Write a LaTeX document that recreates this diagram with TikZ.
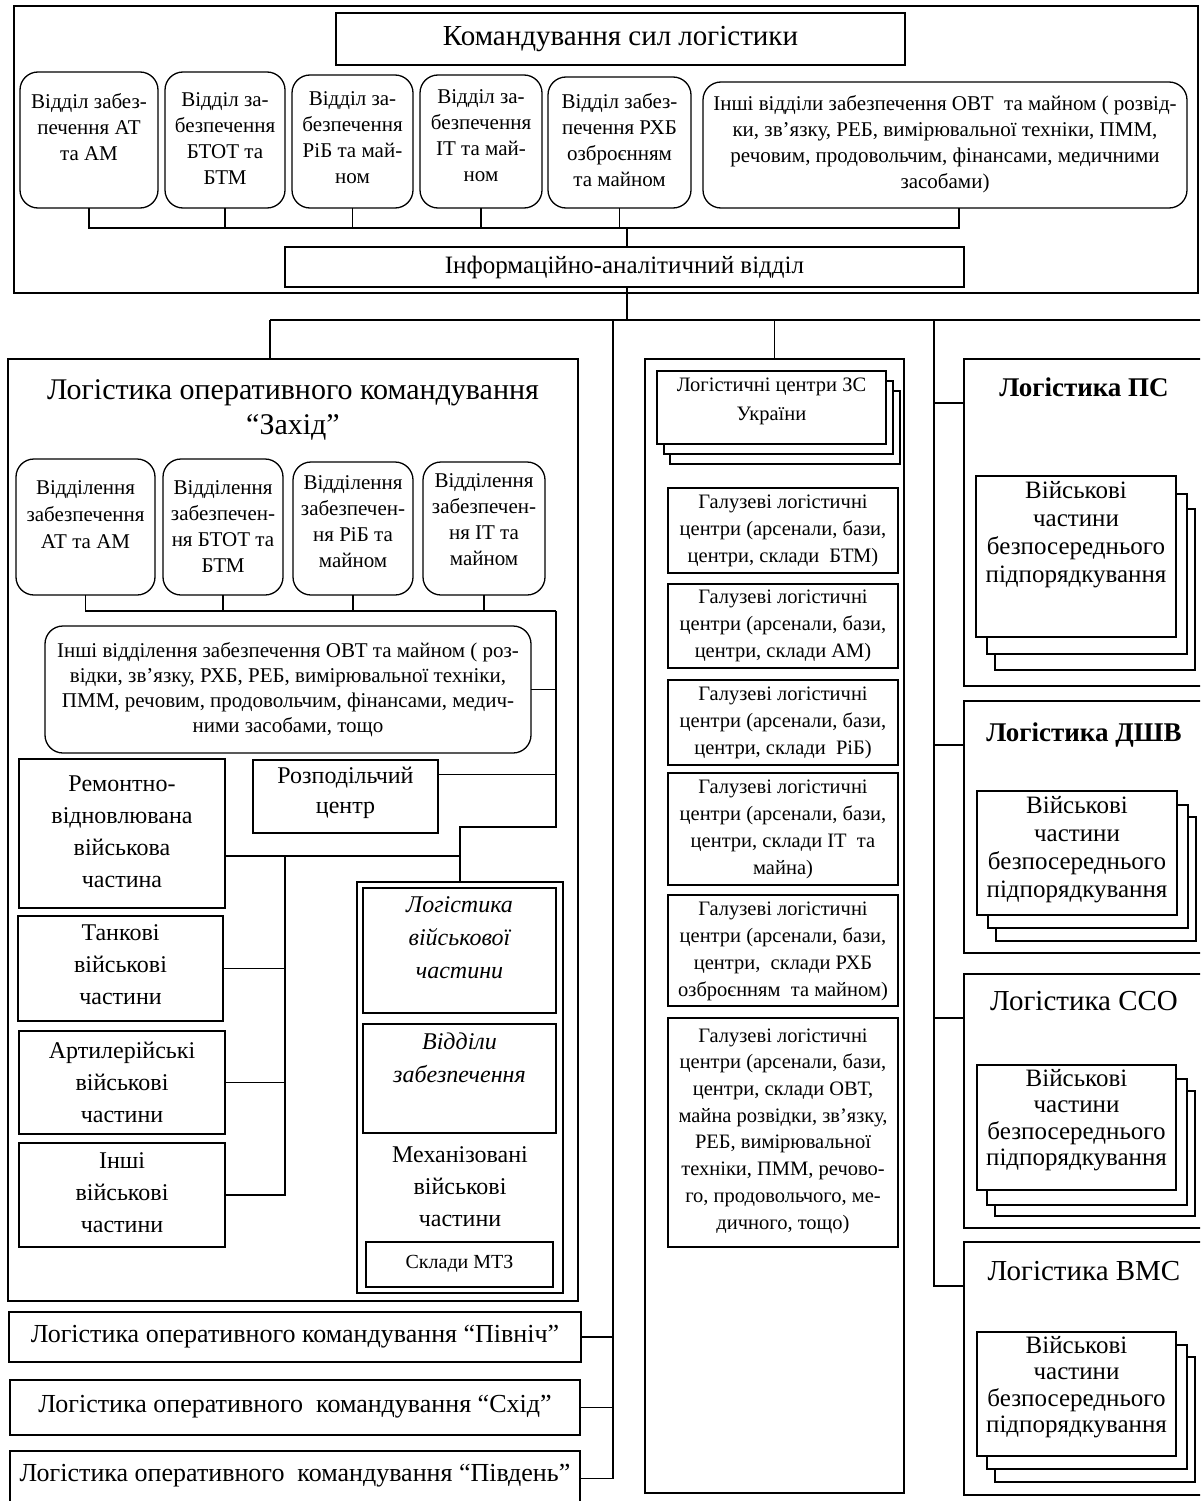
\documentclass[tikz,border=0pt]{standalone}
\usepackage{fontspec}
\setmainfont{Liberation Serif}
\usetikzlibrary{calc}
\newcommand\fsz[2]{\fontsize{#1}{#2}\selectfont}
% #1 style, #2 name, #3 x1, #4 y1, #5 x2, #6 y2, #7 text centre y, #8 font, #9 text
\newcommand\mybox[9]{%
  \node[#1, anchor=north west, minimum width={(#5)-(#3)}, minimum height={(#6)-(#4)}] (#2) at (#3,#4) {};
  \node[txt, font=#8] (#2t) at ({((#3)+(#5))/2}, #7) {#9};}
\newcommand\myshape[6]{%
  \node[#1, anchor=north west, minimum width={(#5)-(#3)}, minimum height={(#6)-(#4)}] (#2) at (#3,#4) {};}
\begin{document}
\begin{tikzpicture}[x=1pt,y=-1pt,
  box/.style={draw, line width=1.3pt, fill=white, inner sep=0pt, outer sep=0pt},
  rbox/.style={box, rounded corners=18pt},
  txt/.style={align=center, inner sep=0pt},
  ln/.style={line width=1.3pt}]
\useasboundingbox (0,0) rectangle (1200,1501);
\clip (0,0) rectangle (1200,1501);
\fill[white] (0,0) rectangle (1200,1501);

% ---------- top block ----------
\myshape{box}{top}{14}{6}{1198}{293}
\mybox{box}{title}{336}{13}{905}{65}{39}{\fsz{29}{34}}{Командування сил логістики}
\mybox{rbox}{s1}{20}{72}{158}{208}{127}{\fsz{21}{26}}{Відділ забез-\\печення АТ\\та АМ}
\mybox{rbox}{s2}{165}{72}{285}{208}{139}{\fsz{21}{26}}{Відділ за-\\безпечення\\БТОТ та\\БТМ}
\mybox{rbox}{s3}{292}{75}{413}{208}{138}{\fsz{21}{26}}{Відділ за-\\безпечення\\РіБ та май-\\ном}
\mybox{rbox}{s4}{420}{75}{542}{208}{136}{\fsz{21}{26}}{Відділ за-\\безпечення\\ІТ та май-\\ном}
\mybox{rbox}{s5}{548}{77}{691}{208}{140}{\fsz{21}{26}}{Відділ забез-\\печення РХБ\\озброєнням\\та майном}
\mybox{rbox}{s6}{703}{82}{1187}{208}{144}{\fsz{21}{26}}{Інші відділи забезпечення ОВТ\ \ та майном ( розвід-\\ки, зв'язку, РЕБ, вимірювальної техніки, ПММ,\\речовим, продовольчим, фінансами, медичними\\засобами)}
\mybox{box}{info}{285}{247}{964}{287}{267}{\fsz{25}{30}}{Інформаційно-аналітичний відділ}

% ---------- West command ----------
\myshape{box}{zah}{8}{359}{578}{1301}
\node[txt, font=\fsz{30}{35}] (zaht) at (293,410) {Логістика оперативного командування\\“Захід”};
\mybox{rbox}{r1}{16}{459}{155}{595}{515}{\fsz{21}{27}}{Відділення\\забезпечення\\АТ та АМ}
\mybox{rbox}{r2}{163}{459}{283}{595}{527}{\fsz{21}{26}}{Відділення\\забезпечен-\\ня БТОТ та\\БТМ}
\mybox{rbox}{r3}{293}{462}{413}{595}{522}{\fsz{21}{26}}{Відділення\\забезпечен-\\ня РіБ та\\майном}
\mybox{rbox}{r4}{423}{462}{545}{595}{520}{\fsz{21}{26}}{Відділення\\забезпечен-\\ня ІТ та\\майном}
\mybox{rbox}{i1}{45}{626}{531}{753}{690}{\fsz{21}{25}}{Інші відділення забезпечення ОВТ та майном ( роз-\\відки, зв'язку, РХБ, РЕБ, вимірювальної техніки,\\ПММ, речовим, продовольчим, фінансами, медич-\\ними засобами, тощо}
\mybox{box}{rem}{19}{759}{225}{908}{832}{\fsz{24}{32}}{Ремонтно-\\відновлювана\\військова\\частина}
\mybox{box}{rozp}{253}{760}{438}{833}{793}{\fsz{24}{30}}{Розподільчий\\центр}
\mybox{box}{tank}{18}{916}{223}{1021}{965}{\fsz{24}{32}}{Танкові\\військові\\частини}
\mybox{box}{art}{19}{1031}{225}{1134}{1082}{\fsz{24}{32}}{Артилерійські\\військові\\частини}
\mybox{box}{insh}{19}{1143}{225}{1247}{1193}{\fsz{24}{32}}{Інші\\військові\\частини}
\mybox{box}{mech}{357}{882}{563}{1293}{1187}{\fsz{24}{32}}{Механізовані\\військові\\частини}
\mybox{box}{lvc}{363}{888}{556}{1013}{938}{\fsz{24}{33}\itshape}{Логістика\\військової\\частини}
\mybox{box}{vz}{363}{1024}{556}{1133}{1058}{\fsz{24}{33}\itshape}{Відділи\\забезпечення}
\mybox{box}{mtz}{366}{1242}{553}{1287}{1264}{\fsz{20}{24}}{Склади МТЗ}

% ---------- other commands ----------
\mybox{box}{pivn}{9}{1312}{581}{1362}{1337}{\fsz{26}{30}}{Логістика оперативного командування “Північ”}
\mybox{box}{skhid}{10}{1380}{580}{1435}{1407}{\fsz{26}{30}}{Логістика оперативного\ \ командування “Схід”}
\mybox{box}{pivd}{10}{1451}{580}{1506}{1476}{\fsz{26}{30}}{Логістика оперативного\ \ командування “Південь”}

% ---------- logistic centres ----------
\myshape{box}{mid}{645}{359}{904}{1493}
\myshape{box}{zs3}{670}{391}{900}{464}
\myshape{box}{zs2}{664}{381}{893}{454}
\mybox{box}{zs}{657}{371}{886}{444}{401}{\fsz{20.5}{29}}{Логістичні центри ЗС\\України}
\mybox{box}{g1}{668}{488}{898}{573}{531}{\fsz{20.5}{27}}{Галузеві логістичні\\центри (арсенали, бази,\\центри, склади\ \ БТМ)}
\mybox{box}{g2}{668}{584}{898}{668}{626}{\fsz{20.5}{27}}{Галузеві логістичні\\центри (арсенали, бази,\\центри, склади АМ)}
\mybox{box}{g3}{668}{680}{898}{765}{723}{\fsz{20.5}{27}}{Галузеві логістичні\\центри (арсенали, бази,\\центри, склади\ \ РіБ)}
\mybox{box}{g4}{668}{773}{898}{885}{829}{\fsz{20.5}{27}}{Галузеві логістичні\\центри (арсенали, бази,\\центри, склади ІТ\ \ та\\майна)}
\mybox{box}{g5}{668}{895}{898}{1006}{951}{\fsz{20.5}{27}}{Галузеві логістичні\\центри (арсенали, бази,\\центри,\ \ склади РХБ\\озброєнням\ \ та майном)}
\mybox{box}{g6}{668}{1018}{898}{1247}{1131}{\fsz{20.5}{26.7}}{Галузеві логістичні\\центри (арсенали, бази,\\центри, склади ОВТ,\\майна розвідки, зв'язку,\\РЕБ, вимірювальної\\техніки, ПММ, речово-\\го, продовольчого, ме-\\дичного, тощо)}

% ---------- services ----------
\myshape{box}{ps}{964}{359}{1204}{686}
\node[txt, font=\fsz{27}{30}\bfseries] (pst) at (1084,387) {Логістика ПС};
\myshape{box}{ps3}{995}{509}{1195}{670}
\myshape{box}{ps2}{987}{494}{1187}{654}
\mybox{box}{ps1}{976}{476}{1176}{637}{535}{\fsz{25}{28}}{Військові\\частини\\безпосереднього\\підпорядкування}

\myshape{box}{dsh}{964}{701}{1204}{953}
\node[txt, font=\fsz{27}{30}\bfseries] (dsht) at (1084,735) {Логістика ДШВ};
\myshape{box}{dsh3}{996}{817}{1196}{941}
\myshape{box}{dsh2}{988}{805}{1188}{928}
\mybox{box}{dsh1}{977}{791}{1177}{915}{850}{\fsz{25}{28}}{Військові\\частини\\безпосереднього\\підпорядкування}

\myshape{box}{sso}{964}{974}{1204}{1228}
\node[txt, font=\fsz{29}{32}] (ssot) at (1084,1001) {Логістика ССО};
\myshape{box}{sso3}{995}{1091}{1195}{1216}
\myshape{box}{sso2}{987}{1079}{1187}{1205}
\mybox{box}{sso1}{977}{1065}{1176}{1190}{1120}{\fsz{25}{26.5}}{Військові\\частини\\безпосереднього\\підпорядкування}

\myshape{box}{vms}{964}{1242}{1204}{1495}
\node[txt, font=\fsz{29}{32}] (vmst) at (1084,1271) {Логістика ВМС};
\myshape{box}{vms3}{995}{1357}{1195}{1482}
\myshape{box}{vms2}{987}{1345}{1187}{1469}
\mybox{box}{vms1}{977}{1332}{1176}{1456}{1387}{\fsz{25}{26.5}}{Військові\\частини\\безпосереднього\\підпорядкування}

% ---------- connectors ----------
\coordinate (tb) at (627,228);
\draw[ln] (s1.south) |- ($(s6.south)+(14,20)$) -- ($(s6.south)+(14,0)$);
\foreach \n in {s2,s3,s4,s5} \draw[ln] (\n.south) -- (\n.south |- tb);
\draw[ln] (tb) -- (tb |- info.north);

\coordinate (bL) at (270,320);
\coordinate (bR) at (1210,320);
\coordinate (bM) at (627,320);
\coordinate (bA) at (613,320);
\coordinate (bC) at (934,320);
\draw[ln] (info.south -| bM) -- (bM);
\draw[ln] (bL) -- (bR);
\draw[ln] (bL) -- (bL |- zah.north);
\draw[ln] (mid.north) -- (mid.north |- bL);
\draw[ln] (bA) |- (pivd.east);
\draw[ln] (pivn.east) -- (pivn.east -| bA);
\draw[ln] (skhid.east) -- (skhid.east -| bA);
\foreach \n in {ps,dsh,sso,vms} \coordinate (c\n) at ($(\n.north west)+(0,44)$);
\draw[ln] (bC) |- (cvms);
\foreach \n in {ps,dsh,sso} \draw[ln] (c\n) -- (c\n -| bC);

\coordinate (zb) at (556,611);
\draw[ln] (r1.south) |- (zb);
\foreach \n in {r2,r3,r4} \draw[ln] (\n.south) -- (\n.south |- zb);
\draw[ln] (zb) -- ++(0,216) -| (mech.north);
\draw[ln] (i1.east) -- (i1.east -| zb);
\coordinate (rz) at ($(rozp.north east)!0.2!(rozp.south east)$);
\draw[ln] (rz) -- (rz -| zb);
\coordinate (rm) at ($(rem.north east)!0.65!(rem.south east)$);
\draw[ln] (rm) -- (rm -| mech.north);
\coordinate (rk) at ($(rm)+(60,0)$);
\draw[ln] (rk) |- (insh.east);
\draw[ln] (tank.east) -- (tank.east -| rk);
\draw[ln] (art.east) -- (art.east -| rk);
\end{tikzpicture}
\end{document}
